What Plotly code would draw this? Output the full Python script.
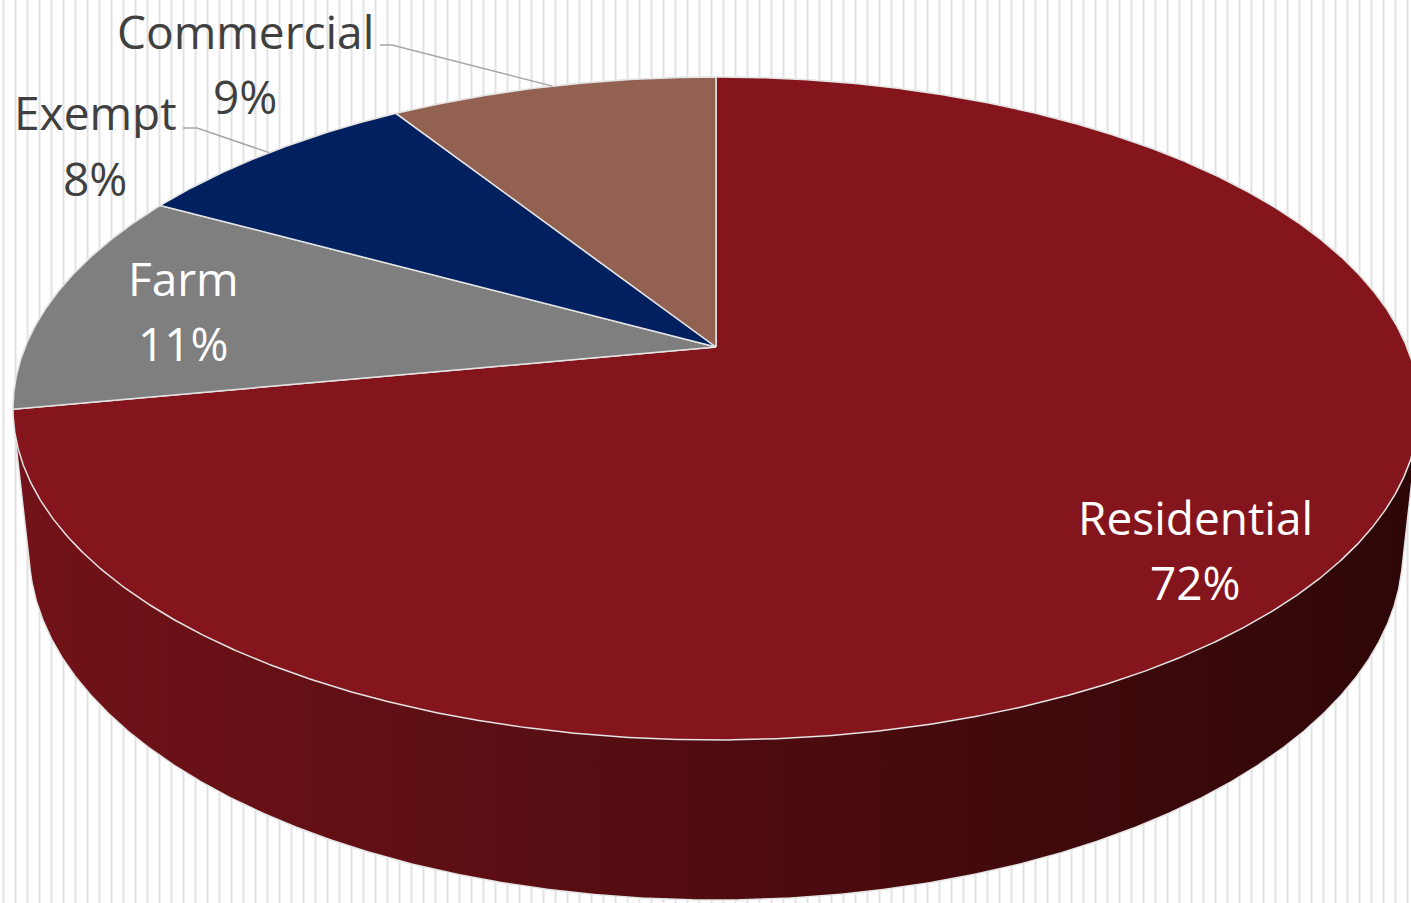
import math
import plotly.graph_objects as go

# Share of parcels by class (percent), laid out clockwise from 12 o'clock
categories = ["Residential", "Farm", "Exempt", "Commercial"]
shares = [72, 11, 8, 9]
slice_colors = ["#84151D", "#7F7F7F", "#002060", "#936151"]
label_colors = ["#FFFFFF", "#FFFFFF", "#404040", "#404040"]

W, H = 1411, 903

# Perspective camera used to tilt the disc into a 3-D pie
CX, CY = 716.0, 347.0
ALPHA = math.radians(27.6)   # elevation of the view
DIST = 4.777                 # camera distance (disc radius = 1)
FOCAL = 3300.0
THICK = 0.2335               # thickness of the disc
EDGE = "#E4E4E4"


def project(phi_deg, z=0.0):
    """Screen position of a rim point at angle phi (clockwise from the back) and height z."""
    p = math.radians(phi_deg)
    X, Y = math.sin(p), math.cos(p)
    v = Y * math.sin(ALPHA) + z * math.cos(ALPHA)
    w = DIST + Y * math.cos(ALPHA) - z * math.sin(ALPHA)
    return CX + FOCAL * X / w, CY - FOCAL * v / w


def convex_hull(pts):
    pts = sorted(set(pts))

    def cross(o, a, b):
        return (a[0] - o[0]) * (b[1] - o[1]) - (a[1] - o[1]) * (b[0] - o[0])

    lower, upper = [], []
    for p in pts:
        while len(lower) >= 2 and cross(lower[-2], lower[-1], p) <= 0:
            lower.pop()
        lower.append(p)
    for p in reversed(pts):
        while len(upper) >= 2 and cross(upper[-2], upper[-1], p) <= 0:
            upper.pop()
        upper.append(p)
    return lower[:-1] + upper[:-1]


fig = go.Figure()

# Vertical hairline pattern behind the chart
sx, sy = [], []
x = 3.5
while x < W:
    sx += [x, x, None]
    sy += [0, H, None]
    x += 12
fig.add_trace(go.Scatter(x=sx, y=sy, mode="lines", line=dict(color="#E2E2E2", width=2),
                         hoverinfo="skip", showlegend=False))

# Side wall of the disc: outline of the top and bottom rims together
rim = []
for i in range(1440):
    a = i * 0.25
    rim.append(project(a, 0.0))
    rim.append(project(a, -THICK))
hull = convex_hull([(round(px, 3), round(py, 3)) for px, py in rim])
hull.append(hull[0])
fig.add_trace(go.Scatter(
    x=[p[0] for p in hull], y=[p[1] for p in hull],
    mode="lines", fill="toself",
    fillgradient=dict(type="horizontal",
                      colorscale=[[0, "#721319"], [0.5, "#500C10"], [1, "#2E0607"]]),
    line=dict(color=EDGE, width=1.5),
    hoverinfo="skip", showlegend=False))

# Top face: one wedge per category
total = sum(shares)
start = 0.0
mids = []
for name, val, col in zip(categories, shares, slice_colors):
    a0 = start / total * 360.0
    a1 = (start + val) / total * 360.0
    n = max(2, int((a1 - a0) / 0.25))
    xs, ys = [CX], [CY]
    for j in range(n + 1):
        px, py = project(a0 + (a1 - a0) * j / n)
        xs.append(px)
        ys.append(py)
    xs.append(CX)
    ys.append(CY)
    fig.add_trace(go.Scatter(x=xs, y=ys, mode="lines", fill="toself", fillcolor=col,
                             line=dict(color=EDGE, width=1.5), name=name,
                             hoverinfo="name", showlegend=False))
    mids.append((a0 + a1) / 2)
    start += val

# Leader lines for the two outside labels, ending on the rim at the wedge middle
leader_start = {"Exempt": [(183, 128), (197, 128)], "Commercial": [(380, 45), (392, 45)]}
for name, mid in zip(categories, mids):
    if name in leader_start:
        ex, ey = project(mid)
        pts = leader_start[name] + [(ex, ey)]
        fig.add_trace(go.Scatter(x=[p[0] for p in pts], y=[p[1] for p in pts], mode="lines",
                                 line=dict(color="#A6A6A6", width=1.5),
                                 hoverinfo="skip", showlegend=False))

# Category labels: name on the first line, percentage below
label_pos = {"Residential": (1195, 517, 582), "Farm": (183, 278, 343),
             "Exempt": (95, 112, 178), "Commercial": (245, 31, 96)}
for name, val, tc in zip(categories, shares, label_colors):
    lx, ly1, ly2 = label_pos[name]
    for txt, ly in ((name, ly1), (f"{round(val / total * 100)}%", ly2)):
        fig.add_annotation(x=lx, y=ly, xref="x", yref="y", showarrow=False,
                           text=txt, xanchor="center", yanchor="middle", align="center",
                           valign="middle", height=52, borderpad=0,
                           font=dict(family="Open Sans", size=46, color=tc))

fig.update_layout(
    width=W, height=H,
    margin=dict(l=0, r=0, t=0, b=0),
    paper_bgcolor="white", plot_bgcolor="white",
    xaxis=dict(range=[0, W], visible=False, fixedrange=True),
    yaxis=dict(range=[H, 0], visible=False, fixedrange=True),
    showlegend=False,
)

fig.write_html("out.html")
